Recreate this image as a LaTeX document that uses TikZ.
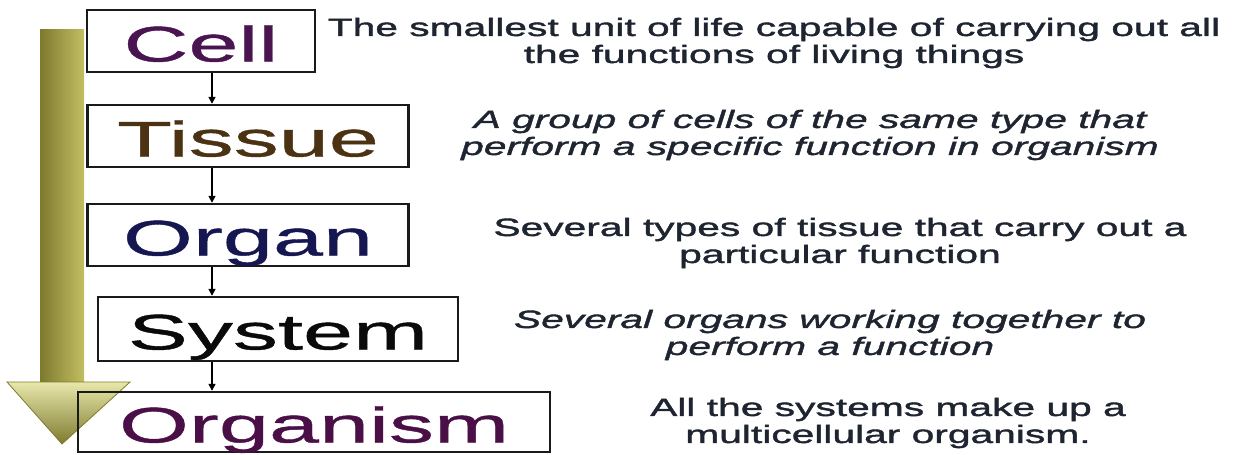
\documentclass[tikz,border=0pt]{standalone}
\usepackage{fontspec}
\usetikzlibrary{arrows.meta}

% wide sans faces for the level names and the notes
\newfontfamily\levelfont[FakeStretch=1.8,FakeBold=0.8]{Liberation Sans}
\newfontfamily\notefont[FakeStretch=1.63,FakeBold=1.6]{Liberation Sans}

\definecolor{cellcol}{HTML}{4A1450}
\definecolor{tissuecol}{HTML}{4A3212}
\definecolor{organcol}{HTML}{161650}
\definecolor{systemcol}{HTML}{0A0A0A}
\definecolor{organismcol}{HTML}{4A0F46}
\definecolor{notecol}{HTML}{1E2430}
\definecolor{boxline}{HTML}{1A1A1A}
\definecolor{khakilight}{HTML}{E8E8AC}
\definecolor{khakimid}{HTML}{C2BE62}
\definecolor{oliveedge}{HTML}{7E7A2E}

\begin{document}
\begin{tikzpicture}[
x=1pt,y=-1pt,
level/.style={
draw=boxline,
line width=2.4pt,
inner sep=0pt,
text height=41pt,
text depth=0pt,
font=\levelfont\fontsize{50}{60}\selectfont
},
note/.style={
align=center,
text=notecol,
font=\notefont\fontsize{25}{27}\selectfont
},
link/.style={
line width=1.6pt,
-{Triangle[length=7pt,width=7pt]}
}
]

\useasboundingbox (0,0) rectangle (1234,455);

%%%%%%%%%%%%%%%%%%%%%%%%%%%%%%%%%%%%%%%%%%%%%%%%%%%%%%%%%%%%
% Big downward arrow
%%%%%%%%%%%%%%%%%%%%%%%%%%%%%%%%%%%%%%%%%%%%%%%%%%%%%%%%%%%%

\shade[
left color=oliveedge,
middle color=khakilight,
right color=khakimid
]
(40,29) rectangle (84,384);

\shade[
top color=khakilight,
bottom color=oliveedge,
draw=oliveedge,
line width=0.8pt
]
(7,382) -- (130,382) -- (62,444) -- cycle;

%%%%%%%%%%%%%%%%%%%%%%%%%%%%%%%%%%%%%%%%%%%%%%%%%%%%%%%%%%%%
% Levels
%%%%%%%%%%%%%%%%%%%%%%%%%%%%%%%%%%%%%%%%%%%%%%%%%%%%%%%%%%%%

\node[
level,
text=cellcol,
minimum width=228pt,
minimum height=62pt
](cell)
at (201,41)
{Cell};

\node[
level,
text=tissuecol,
minimum width=321pt,
minimum height=62pt
](tissue)
at (248,136)
{Tissue};

\node[
level,
text=organcol,
minimum width=321pt,
minimum height=62pt
](organ)
at (248,235)
{Organ};

\node[
level,
text=systemcol,
minimum width=360pt,
minimum height=64pt
](system)
at (278,329)
{System};

\node[
level,
text=organismcol,
minimum width=472pt,
minimum height=60pt
](organism)
at (314,422)
{Organism};

%%%%%%%%%%%%%%%%%%%%%%%%%%%%%%%%%%%%%%%%%%%%%%%%%%%%%%%%%%%%
% Links between levels
%%%%%%%%%%%%%%%%%%%%%%%%%%%%%%%%%%%%%%%%%%%%%%%%%%%%%%%%%%%%

\coordinate (spine) at (212,0);

\draw[link] (cell.south -| spine) -- (tissue.north -| spine);
\draw[link] (tissue.south -| spine) -- (organ.north -| spine);
\draw[link] (organ.south -| spine) -- (system.north -| spine);
\draw[link] (system.south -| spine) -- (organism.north -| spine);

%%%%%%%%%%%%%%%%%%%%%%%%%%%%%%%%%%%%%%%%%%%%%%%%%%%%%%%%%%%%
% Notes
%%%%%%%%%%%%%%%%%%%%%%%%%%%%%%%%%%%%%%%%%%%%%%%%%%%%%%%%%%%%

\node[note](cellnote)
at (774,43)
{The smallest unit of life capable of carrying out all\\the functions of living things};

\node[note,font=\notefont\itshape\fontsize{25}{27}\selectfont](tissuenote)
at (810,135)
{A group of cells of the same type that\\perform a specific function in organism};

\node[note](organnote)
at (840,243)
{Several types of tissue that carry out a\\particular function};

\node[note,font=\notefont\itshape\fontsize{25}{27}\selectfont](systemnote)
at (830,335)
{Several organs working together to\\perform a function};

\node[note](organismnote)
at (888,423)
{All the systems make up a\\multicellular organism.};

\end{tikzpicture}
\end{document}
